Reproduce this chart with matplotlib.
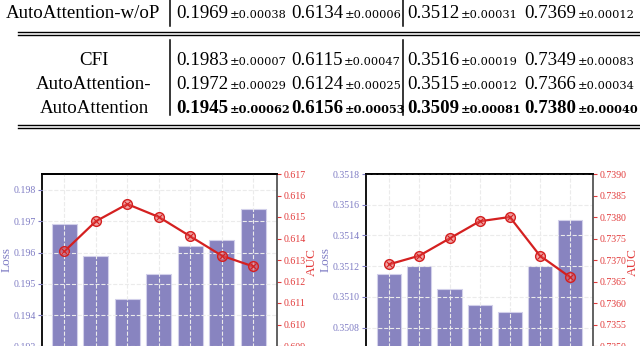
import matplotlib
matplotlib.use('Agg')
import matplotlib.pyplot as plt
from matplotlib.lines import Line2D
from matplotlib.ticker import FormatStrFormatter
import numpy as np

W, H = 640, 346

# ---- table data ----
methods = ['AutoAttention-w/oP', 'CFI', 'AutoAttention-', 'AutoAttention']
loss_a = ['0.1969', '0.1983', '0.1972', '0.1945']
loss_a_std = ['0.00038', '0.00007', '0.00029', '0.00062']
auc_a = ['0.6134', '0.6115', '0.6124', '0.6156']
auc_a_std = ['0.00006', '0.00047', '0.00025', '0.00053']
loss_b = ['0.3512', '0.3516', '0.3515', '0.3509']
loss_b_std = ['0.00031', '0.00019', '0.00012', '0.00081']
auc_b = ['0.7369', '0.7349', '0.7366', '0.7380']
auc_b_std = ['0.00012', '0.00083', '0.00034', '0.00040']

# ---- chart data ----
steps = np.arange(7)
loss_left = [0.1969, 0.1959, 0.1945, 0.1953, 0.1962, 0.1964, 0.1974]
auc_left = [0.6134, 0.6148, 0.6156, 0.6150, 0.6141, 0.6132, 0.6127]
loss_right = [0.35115, 0.3512, 0.35105, 0.35095, 0.3509, 0.3512, 0.3515]
auc_right = [0.7369, 0.7371, 0.7375, 0.7379, 0.7380, 0.7371, 0.7366]

serif = 'Liberation Serif'
purple = '#7f7cc4'
bar_color = '#8884c0'
red_txt = '#e23b3b'
red_line = '#d42020'

fig = plt.figure(figsize=(6.4, 3.46), dpi=100)


def fx(x):
    return x / W


def fy(y):
    return 1 - y / H


def hline(y, x0=18, x1=640, lw=1.0):
    fig.add_artist(Line2D([fx(x0), fx(x1)], [fy(y), fy(y)], transform=fig.transFigure,
                          color='black', lw=lw))


def vline(x, y0, y1, lw=1.1):
    fig.add_artist(Line2D([fx(x), fx(x)], [fy(y0), fy(y1)], transform=fig.transFigure,
                          color='black', lw=lw))


# ---- table ----
row_y = [18, 65, 89, 113]
col_x = [176, 291, 407, 524]
columns = [(loss_a, loss_a_std), (auc_a, auc_a_std), (loss_b, loss_b_std), (auc_b, auc_b_std)]

mains = []
for r, name in enumerate(methods):
    if r == 0:
        fig.text(fx(6), fy(row_y[r]), name, ha='left', va='baseline', family=serif, fontsize=13.6)
    else:
        fig.text(fx(94), fy(row_y[r]), name, ha='center', va='baseline', family=serif, fontsize=13.6)
    for c, (vals, stds) in enumerate(columns):
        t = fig.text(fx(col_x[c]), fy(row_y[r]), vals[r], ha='left', va='baseline', family=serif,
                     fontsize=13.6, fontweight='bold' if r == 3 else 'normal')
        mains.append((t, '±' + stds[r], r))

# small ± parts go right after each main number
renderer = fig.canvas.get_renderer()
for t, s, r in mains:
    bb = t.get_window_extent(renderer)
    fig.text(fx(bb.x1 + 1.5), fy(row_y[r]), s, ha='left', va='baseline', family='DejaVu Serif',
             fontsize=8.2, fontweight='bold' if r == 3 else 'normal')

hline(32)
hline(34.8)
hline(125)
hline(128)
for x in (170, 403):
    vline(x, 0, 26)
    vline(x, 40, 115)


# ---- charts ----
def panel(left_px, right_px, loss, auc, loss_lim, auc_lim, loss_ticks, auc_ticks, fmt, xlim, lab_x):
    top_px, bot_px = 174, 389
    rect = [fx(left_px), fy(bot_px), (right_px - left_px) / W, (bot_px - top_px) / H]
    ax = fig.add_axes(rect)
    ax.bar(steps, loss, width=0.8, color=bar_color, edgecolor='#d2d0ea', linewidth=0.8)
    ax.set_xlim(*xlim)
    ax.set_ylim(*loss_lim)
    ax.set_xticks(steps)
    ax.set_xticklabels([])
    ax.set_yticks(loss_ticks)
    ax.yaxis.set_major_formatter(FormatStrFormatter(fmt))
    ax.set_axisbelow(False)
    ax.grid(True, ls='--', color='#ebebeb', lw=0.8)
    ax.tick_params(axis='y', colors=purple, labelsize=7.1, length=3, width=0.8, pad=1.5)
    ax.tick_params(axis='x', length=0)
    for lab in ax.get_yticklabels():
        lab.set_family(serif)
    ax.spines['right'].set_visible(False)
    ax.spines['top'].set_linewidth(1.3)
    ax.spines['left'].set_linewidth(1.3)
    ax.set_ylabel('Loss', color=purple, family=serif, fontsize=9.5)
    ax.yaxis.set_label_coords(lab_x[0], 0.6)

    ax2 = ax.twinx()
    ax2.plot(steps, auc, color=red_line, lw=1.6, marker='o', ms=7,
             mfc=(0.9, 0.35, 0.35, 0.55), mec=red_line, mew=1.0, zorder=4)
    ax2.plot(steps, auc, ls='none', marker='x', ms=4, mec=red_line, mew=0.8, zorder=5)
    ax2.set_ylim(*auc_lim)
    ax2.set_yticks(auc_ticks)
    ax2.yaxis.set_major_formatter(FormatStrFormatter(fmt))
    ax2.tick_params(axis='y', colors=red_txt, labelsize=7.1, length=3, width=0.8, pad=1.5)
    for lab in ax2.get_yticklabels():
        lab.set_family(serif)
    ax2.spines['right'].set_color('#555555')
    ax2.spines['right'].set_linewidth(1.3)
    ax2.spines['top'].set_linewidth(1.3)
    ax2.spines['left'].set_visible(False)
    ax2.set_ylabel('AUC', color=red_txt, family=serif, fontsize=9.5)
    ax2.yaxis.set_label_coords(lab_x[1], 0.59)


panel(42, 277, loss_left, auc_left, (0.19164, 0.19851), (0.607, 0.617),
      np.arange(0.192, 0.1985, 0.001), np.arange(0.607, 0.6175, 0.001), '%.3f',
      (-0.708, 6.752), (-0.125, 1.123))
panel(366, 593, loss_right, auc_right, (0.350426, 0.3518), (0.734, 0.739),
      np.arange(0.3504, 0.35185, 0.0002), np.arange(0.734, 0.73905, 0.0005), '%.4f',
      (-0.77, 6.76), (-0.15, 1.15))

fig.savefig('out.png', dpi=100)
